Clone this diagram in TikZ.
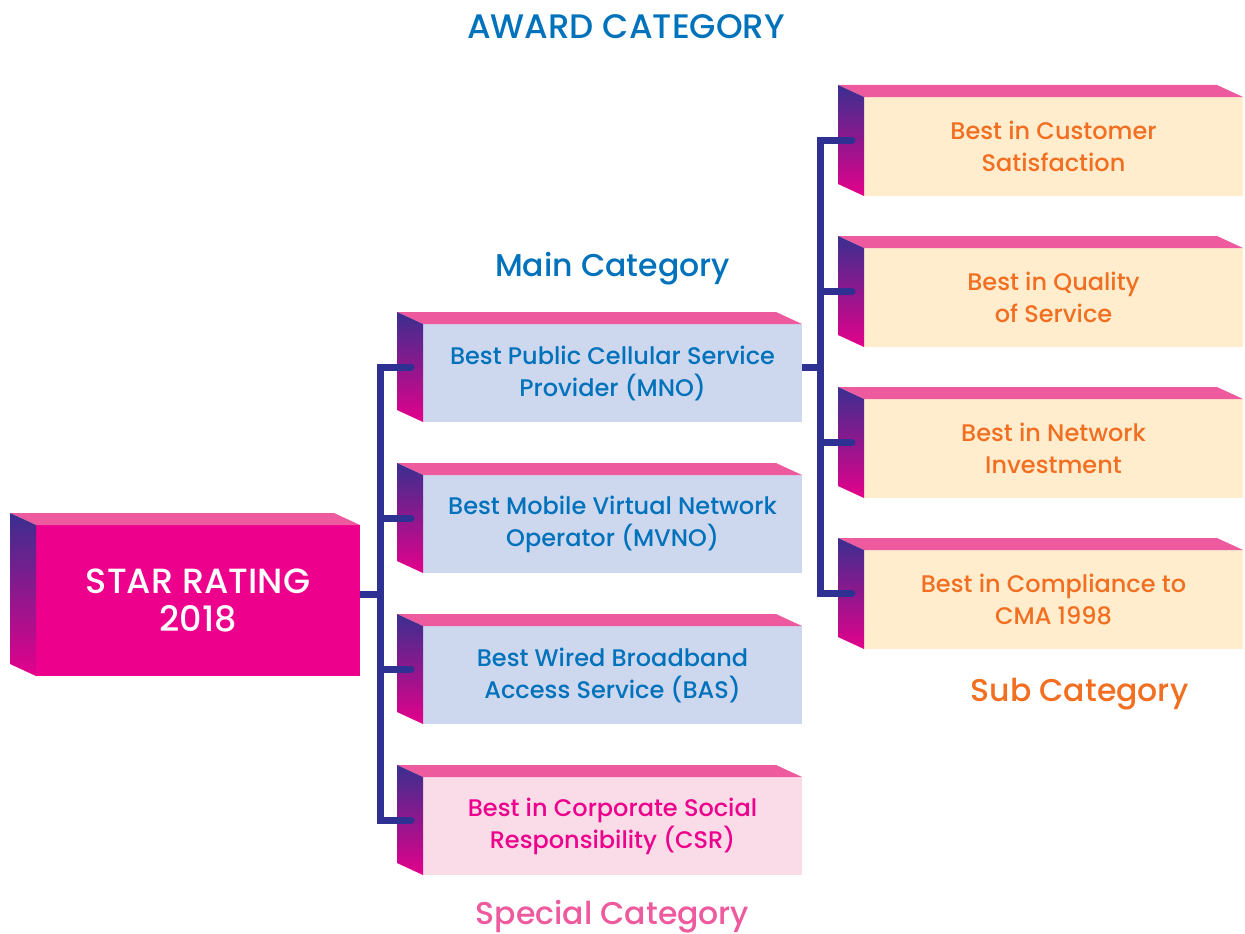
\documentclass[tikz,border=0pt]{standalone}
\usepackage{fontspec}
\setmainfont{Poppins}[BoldFont={Poppins Medium}]
\usetikzlibrary{positioning}

\definecolor{starpink}{HTML}{EC008C}
\definecolor{toppink}{HTML}{EE5A9E}
\definecolor{sidetop}{HTML}{3A2F8F}
\definecolor{sidebot}{HTML}{E4008B}
\definecolor{linkblue}{HTML}{2E3192}
\definecolor{awardblue}{HTML}{0072BC}
\definecolor{mainfill}{HTML}{CDD7EE}
\definecolor{subfill}{HTML}{FFEDCE}
\definecolor{subtext}{HTML}{F26F21}
\definecolor{csrfill}{HTML}{FADCE8}

\begin{document}
\begin{tikzpicture}%
  [x=1pt, y=-1pt,
   node distance=151pt,
   on grid,
   box/.style={rectangle, inner sep=0pt, outer sep=0pt, align=center,
               minimum width=379pt, minimum height=98pt,
               font=\fontsize{24}{32}\selectfont\bfseries},
   star/.style={box, fill=starpink, text=white, minimum width=324pt,
                minimum height=151pt, font=\fontsize{35}{38}\selectfont\bfseries},
   main/.style={box, fill=mainfill, text=awardblue},
   special/.style={box, fill=csrfill, text=starpink},
   sub/.style={box, fill=subfill, text=subtext, minimum height=99pt},
   heading/.style={font=\fontsize{31.5}{32}\selectfont\bfseries},
   link/.style={draw=linkblue, line width=7pt, line cap=round}
  ]
\useasboundingbox (0,0) rectangle (1245,934);

% boxes
\node[star]  (star)  at (198,600.5)    {STAR RATING\\2018};
\node[main]  (main1) at (612.5,373)    {Best Public Cellular Service\\Provider (MNO)};
\node[main]  (main2) [below=of main1]  {Best Mobile Virtual Network\\Operator (MVNO)};
\node[main]  (main3) [below=of main2]  {Best Wired Broadband\\Access Service (BAS)};
\node[special] (csr) [below=of main3]  {Best in Corporate Social\\Responsibility (CSR)};
\node[sub]   (sub1)  at (1053.5,146.5) {Best in Customer\\Satisfaction};
\node[sub]   (sub2)  [below=of sub1]   {Best in Quality\\of Service};
\node[sub]   (sub3)  [below=of sub2]   {Best in Network\\Investment};
\node[sub]   (sub4)  [below=of sub3]   {Best in Compliance to\\CMA 1998};

% top and side faces
\foreach \b in {star,main1,main2,main3,csr,sub1,sub2,sub3,sub4} {
  \fill[toppink] (\b.north west) -- ++(-26,-12)
    -- ([shift={(-26,-12)}]\b.north east) -- (\b.north east) -- cycle;
  \shade[top color=sidetop, bottom color=sidebot] (\b.north west) -- ++(-26,-12)
    -- ([shift={(-26,-12)}]\b.south west) -- (\b.south west) -- cycle;
}

% headings
\node[heading, text=awardblue, font=\fontsize{34}{32}\selectfont\bfseries]
                               (award)   at (626,27)                 {AWARD CATEGORY};
\node[heading, text=awardblue] (maincat) [above=104pt of main1]      {Main Category};
\node[heading, text=subtext]   (subcat)  [below=95pt of sub4, xshift=26pt] {Sub Category};
\node[heading, text=toppink]   (specat)  [below=91pt of csr]         {Special Category};

% connectors
\draw[link, line cap=butt] ([yshift=6pt]star.east) -- ++(20,0) coordinate (mainbus);
\foreach \b in {main1,main2,main3,csr}
  \draw[link] (mainbus) |- ([shift={(-12,-6)}]\b.west);
\draw[link, line cap=butt] ([yshift=6pt]main1.east) -- ++(18,0) coordinate (subbus);
\foreach \s in {sub1,sub2,sub3,sub4}
  \draw[link] (subbus) |- ([shift={(-12,-6)}]\s.west);
\end{tikzpicture}
\end{document}
